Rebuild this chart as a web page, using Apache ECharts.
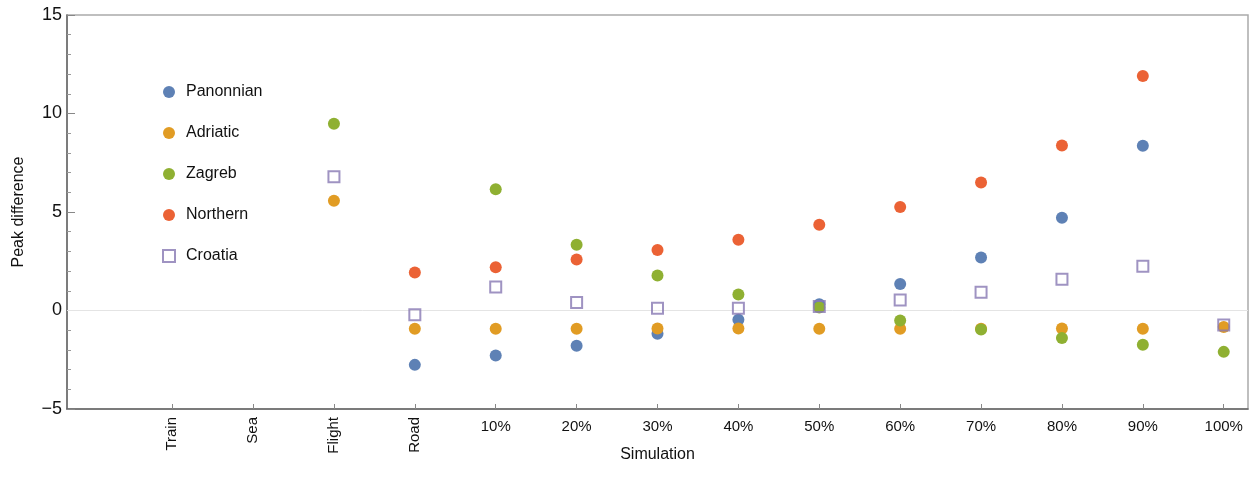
<!DOCTYPE html>
<html>
<head>
<meta charset="utf-8">
<script src="https://cdn.jsdelivr.net/npm/echarts@6/dist/echarts.min.js"></script>
<style>
html,body{margin:0;padding:0;background:#fff;}
#chart{width:1254px;height:494px;}
</style>
</head>
<body>
<div id="chart"></div>
<script>
// Category labels along the x axis (positions 1..14)
const categories = ['Train','Sea','Flight','Road','10%','20%','30%','40%','50%','60%','70%','80%','90%','100%'];
const positions = [1,2,3,4,5,6,7,8,9,10,11,12,13,14];
// y tick values
const yTicks = [-5, 0, 5, 10, 15];

// Series values, one per category (null = no point)
const panonnian = [null, null, null, -2.76, -2.28, -1.79, -1.18, -0.47, 0.32, 1.34, 2.69, 4.71, 8.36, null];
const adriatic  = [null, null, 5.57, -0.93, -0.93, -0.93, -0.91, -0.91, -0.93, -0.93, -0.93, -0.91, -0.93, -0.84];
const zagreb    = [null, null, 9.48, null, 6.16, 3.34, 1.78, 0.81, 0.15, -0.51, -0.96, -1.40, -1.74, -2.10];
const northern  = [null, null, null, 1.93, 2.20, 2.59, 3.07, 3.59, 4.35, 5.25, 6.50, 8.38, 11.90, null];
const croatia   = [null, null, 6.79, -0.22, 1.19, 0.41, 0.12, 0.12, 0.20, 0.53, 0.93, 1.58, 2.25, -0.73];

const seriesNames = ['Panonnian','Adriatic','Zagreb','Northern','Croatia'];
const seriesValues = [panonnian, adriatic, zagreb, northern, croatia];
const colors = ['#5E81B5','#E19C24','#8FB032','#EB6235','#8778B3'];

function toPairs(vals){
  const out = [];
  vals.forEach((v,i)=>{ if(v!==null) out.push([positions[i], v]); });
  return out;
}

const FONT = 'Liberation Sans, Arial, sans-serif';

const series = seriesNames.map((name, k) => {
  const isSquare = name === 'Croatia';
  const s = {
    name: name,
    type: 'scatter',
    xAxisIndex: 0,
    yAxisIndex: 0,
    data: toPairs(seriesValues[k]),
    symbol: isSquare ? 'rect' : 'circle',
    symbolSize: isSquare ? 11 : 12,
    itemStyle: isSquare
      ? {color: 'rgba(255,255,255,0)', borderColor: colors[k], borderWidth: 2}
      : {color: colors[k], opacity: 1},
    emphasis: {disabled: true},
    z: 3 + k
  };
  if(k === 0){
    s.markLine = {
      silent: true,
      symbol: ['none','none'],
      label: {show: false},
      lineStyle: {color: '#e4e4e4', width: 1, type: 'solid'},
      data: [{yAxis: 0}],
      z: 1
    };
  }
  return s;
});

const chart = echarts.init(document.getElementById('chart'), null, {renderer: 'canvas'});
chart.setOption({
  animation: false,
  backgroundColor: '#fff',
  textStyle: {fontFamily: FONT},
  grid: {
    left: 67, right: 6, top: 15, bottom: 85,
    show: true, borderColor: '#aaaaaa', borderWidth: 1.5, backgroundColor: 'transparent'
  },
  legend: {
    orient: 'vertical',
    left: 157,
    top: 79,
    itemWidth: 12,
    itemHeight: 12,
    itemGap: 25,
    textStyle: {fontFamily: FONT, fontSize: 16, color: '#111', padding: [0,0,0,6]},
    data: seriesNames.map(n => ({name: n}))
  },
  xAxis: [
    {
      type: 'value',
      min: -0.3,
      max: 14.3,
      position: 'bottom',
      name: 'Simulation',
      nameLocation: 'middle',
      nameGap: 46,
      nameMoveOverlap: false,
      nameTextStyle: {fontFamily: FONT, fontSize: 16, color: '#111', verticalAlign: 'middle'},
      axisLine: {show: true, onZero: false, lineStyle: {color: '#666', width: 1.5}},
      axisTick: {show: true, inside: true, length: 5, customValues: positions, lineStyle: {color: '#888'}},
      axisLabel: {
        show: true,
        customValues: positions.slice(0, 4),
        rotate: 90,
        margin: 8,
        fontFamily: FONT,
        fontSize: 15,
        color: '#111',
        formatter: v => categories[positions.indexOf(v)]
      },
      splitLine: {show: false}
    },
    {
      type: 'value',
      min: -0.3,
      max: 14.3,
      position: 'bottom',
      axisLine: {show: false},
      axisTick: {show: false},
      axisLabel: {
        show: true,
        customValues: positions.slice(4),
        rotate: 0,
        margin: 10,
        fontFamily: FONT,
        fontSize: 15,
        color: '#111',
        formatter: v => categories[positions.indexOf(v)]
      },
      splitLine: {show: false}
    }
  ],
  yAxis: {
    type: 'value',
    min: yTicks[0],
    max: yTicks[yTicks.length - 1],
    interval: 5,
    name: 'Peak difference',
    nameLocation: 'middle',
    nameGap: 48,
    nameMoveOverlap: false,
    nameTextStyle: {fontFamily: FONT, fontSize: 16, color: '#111', verticalAlign: 'middle'},
    axisLine: {show: true, onZero: false, lineStyle: {color: '#666', width: 1.5}},
    axisTick: {show: true, inside: true, length: 8, lineStyle: {color: '#888'}},
    minorTick: {show: true, splitNumber: 5, length: 4, lineStyle: {color: '#999'}},
    axisLabel: {
      fontFamily: FONT, fontSize: 18, color: '#111', margin: 5,
      formatter: v => (v < 0 ? '\u2212' + Math.abs(v) : String(v))
    },
    splitLine: {show: false},
    minorSplitLine: {show: false}
  },
  series: series
});
</script>
</body>
</html>
